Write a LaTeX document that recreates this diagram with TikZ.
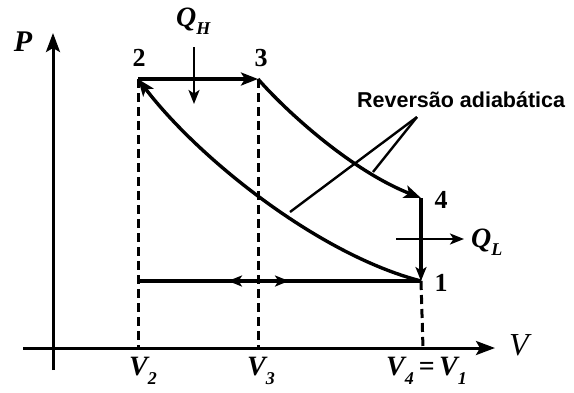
\documentclass[tikz,border=0pt]{standalone}
\usepackage{fontspec}
\setmainfont{Liberation Serif}
\newfontfamily\labsans{Liberation Sans}
\usetikzlibrary{arrows.meta}
\newcommand{\subsc}[1]{\raisebox{-0.3em}{\fontsize{18}{18}\selectfont #1}}
\begin{document}
\begin{tikzpicture}[x=1pt,y=-1pt,
  thick line/.style={line width=3.4pt},
  axisline/.style={line width=3pt},
  dashline/.style={line width=3pt,dash pattern=on 9pt off 5pt},
  tip/.style={-{Stealth[length=17pt,width=13pt,inset=4pt]}},
  smalltip/.style={-{Stealth[length=14pt,width=11pt,inset=3.5pt]}},
  num/.style={font=\fontsize{26}{26}\selectfont\bfseries, inner sep=0pt},
  lab/.style={font=\fontsize{28}{28}\selectfont\bfseries\itshape, inner sep=0pt},
  leader/.style={line width=2.4pt}]
\useasboundingbox (0,0) rectangle (574,392);
% points
\coordinate (p2) at (138,79);
\coordinate (p3) at (258,79);
\coordinate (p4) at (421,198);
\coordinate (p1) at (421,281);
\coordinate (v2) at (138,348);
\coordinate (v3) at (258,348);
\coordinate (v4) at (423,348);
\coordinate (xs) at (23,348);
\coordinate (xe) at (495,348);
\coordinate (ys) at (53,370);
\coordinate (ye) at (53,33);
% axes
\draw[axisline, -{Stealth[length=19pt,width=14pt,inset=4pt]}] (xs) -- (xe);
\draw[axisline, -{Stealth[length=19pt,width=14pt,inset=4pt]}] (ys) -- (ye);
% dashed verticals
\draw[dashline] (p2) -- (v2);
\draw[dashline] (p3) -- (v3);
\draw[dashline] (p1) -- (v4);
% cycle
\draw[thick line, tip] (p2) -- (p3);
\draw[thick line, tip] (p3) .. controls (285,110) and (350,170) .. (p4);
\draw[thick line, smalltip] (p4) -- (p1);
\draw[thick line, tip] (p1) .. controls (320,255) and (200,160) .. (p2);
% bottom line with double arrow
\coordinate (b2) at (138,281);
\coordinate (bm) at (258,281);
\coordinate (bl) at (228,281);
\coordinate (br) at (289,281);
\draw[thick line] (b2) -- (p1);
\draw[thick line, smalltip] (bm) -- (bl);
\draw[thick line, smalltip] (bm) -- (br);
% heat arrows
\coordinate (qhs) at (194,47);
\coordinate (qhe) at (194,104);
\draw[line width=2.4pt, smalltip] (qhs) -- (qhe);
\coordinate (qls) at (396,239);
\coordinate (qle) at (464,239);
\draw[line width=2.4pt, smalltip] (qls) -- (qle);
% leaders
\coordinate (apex) at (417,117);
\coordinate (la) at (290,212);
\coordinate (lb) at (373,172);
\draw[leader] (apex) -- (la);
\draw[leader] (apex) -- (lb);
% labels
\node[num] (n2) at (139,58) {2};
\node[num] (n3) at (261,58) {3};
\node[num] (n4) at (441,200) {4};
\node[num] (n1) at (441,283) {1};
\node[font=\fontsize{30}{30}\selectfont\bfseries\itshape, inner sep=0pt] (lP) at (23,42) {P};
\node[lab, anchor=west] (lQH) at (176,21) {Q\subsc{H}};
\node[lab, anchor=west] (lQL) at (471,242) {Q\subsc{L}};
\node[font=\fontsize{32}{32}\selectfont\itshape, inner sep=0pt] (lV) at (519,345) {V};
\node[lab, anchor=west] (lV2) at (129,371) {V\subsc{2}};
\node[lab, anchor=west] (lV3) at (247,371) {V\subsc{3}};
\node[lab, anchor=west] (lV4) at (386,371) {V\subsc{4}\,=\,V\subsc{1}};
\node[font=\labsans\fontsize{21.5}{21.5}\selectfont\bfseries, inner sep=0pt, anchor=base west] (rev) at (357,107) {Reversão adiabática};
\end{tikzpicture}
\end{document}
